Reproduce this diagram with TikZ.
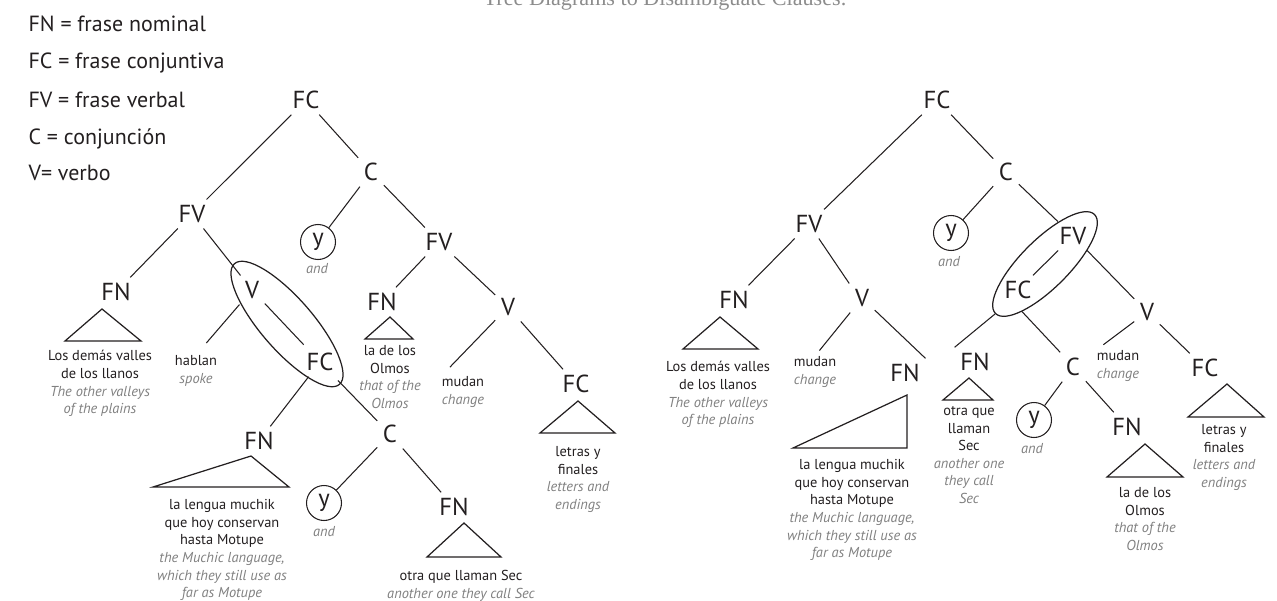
\documentclass[tikz,border=0pt]{standalone}
\usepackage{fontspec}
\setmainfont{PT Sans}
\newfontfamily\titlefont{Liberation Serif}
\usepackage{xcolor}
\usetikzlibrary{shapes.geometric}

\definecolor{ink}{HTML}{231F20}
\definecolor{glossgray}{HTML}{808080}
\definecolor{titlegray}{HTML}{8C8C8C}

\tikzset{
  cat/.style={inner sep=3pt, font=\fontsize{14}{16}\selectfont},
  leaf/.style={anchor=north, inner sep=0pt, align=center, font=\fontsize{8.2}{10}\selectfont},
  gloss/.style={inner sep=0pt, text=glossgray, font=\fontsize{8.2}{10}\selectfont\itshape},
  yc/.style={draw, circle, minimum size=0.7cm, inner sep=0pt, font=\fontsize{14}{16}\selectfont},
  oval/.style={draw, ellipse, inner sep=0pt, line width=0.7pt},
  tri/.style={line width=0.7pt},
  key/.style={anchor=base west, inner sep=0pt, font=\fontsize{12.5}{15}\selectfont}
}
\newcommand{\gl}[1]{\textcolor{glossgray}{\itshape #1}}

\begin{document}
\begin{tikzpicture}[x=0.02cm, y=-0.02cm, line width=0.6pt, color=ink]
\clip (0,0) rectangle (1277,601);
\node[anchor=base, inner sep=0pt, text=titlegray, font=\titlefont\fontsize{12.6}{15}\selectfont] (title) at (665,6) {Tree Diagrams to Disambiguate Clauses.};

% key
\node[key] (keyFN) at (28,32) {FN = frase nominal};
\node[key] (keyFC) at (28,69) {FC = frase conjuntiva};
\node[key] (keyFV) at (28,108) {FV = frase verbal};
\node[key] (keyC) at (28,145) {C = conjunción};
\node[key] (keyV) at (28,181) {V= verbo};

% left tree
\node[cat] (fcTopA) at (306,100) {FC};
\node[cat] (cA) at (371,172) {C};
\node[cat] (fvA) at (192,214) {FV};
\node[yc] (yA) at (318,242) {y};
\node[gloss] (andA) at (317,269) {and};
\node[cat] (fvA2) at (439,242) {FV};
\node[cat] (fnA) at (116,292) {FN};
\node[cat] (vA) at (252,290) {V};
\node[cat] (fcA) at (320,362) {FC};
\node[oval, minimum width=3.2cm, minimum height=1.04cm, rotate=-49] (ovA) at (287,324) {};
\node[cat] (fnA2) at (259,441) {FN};
\node[cat] (cA2) at (390,434) {C};
\node[yc] (yA2) at (324,503) {y};
\node[gloss] (andA2) at (324,532) {and};
\node[cat] (fnA3) at (454,507) {FN};
\node[cat] (fnA4) at (382,302) {FN};
\node[cat] (vA2) at (508,307) {V};
\node[cat] (fcA3) at (576,384) {FC};

\node[leaf] (leafA1) at (100,350) {Los demás valles\\de los llanos\\\gl{The other valleys}\\\gl{of the plains}};
\node[leaf] (hablan) at (196,355) {hablan\\\gl{spoke}};
\node[leaf] (leafA2) at (222,499) {la lengua muchik\\que hoy conservan\\hasta Motupe\\\gl{the Muchic language,}\\\gl{which they still use as}\\\gl{far as Motupe}};
\node[leaf] (leafA3) at (461,570) {otra que llaman Sec\\\gl{another one they call Sec}};
\node[leaf] (leafA4) at (390,345) {la de los\\Olmos\\\gl{that of the}\\\gl{Olmos}};
\node[leaf] (mudanA) at (463,376) {mudan\\\gl{change}};
\node[leaf] (leafA5) at (578,446) {letras y\\finales\\\gl{letters and}\\\gl{endings}};

\draw[tri] (102,309) -- (65,341) -- (141,341) -- cycle;
\draw[tri] (251,456) -- (153,487) -- (289,487) -- cycle;
\draw[tri] (464,523) -- (427,557) -- (501,557) -- cycle;
\draw[tri] (390,317) -- (365,339) -- (413,339) -- cycle;
\draw[tri] (578,401) -- (540,433) -- (615,433) -- cycle;

\draw (fcTopA) -- (fvA);
\draw (fcTopA) -- (cA);
\draw (cA) -- (yA);
\draw (cA) -- (fvA2);
\draw (fvA) -- (fnA);
\draw (fvA) -- (vA);
\draw[shorten >=9pt] (vA) -- (hablan.north);
\draw[shorten >=2pt] (vA) -- (fcA);
\draw (fcA) -- (fnA2);
\draw[shorten <=3pt] (fcA) -- (cA2);
\draw (cA2) -- (yA2);
\draw (cA2) -- (fnA3);
\draw (fvA2) -- (fnA4);
\draw (fvA2) -- (vA2);
\draw[shorten >=7pt] (vA2) -- (mudanA.north west);
\draw (vA2) -- (fcA3);

% right tree
\node[cat] (fcTopB) at (937,100) {FC};
\node[cat] (cB) at (1006,172) {C};
\node[cat] (fvB) at (809,224) {FV};
\node[yc] (yB) at (951,233) {y};
\node[gloss] (andB) at (949,262) {and};
\node[cat] (fvB2) at (1073,236) {FV};
\node[cat] (fcB) at (1018,290) {FC};
\node[oval, minimum width=2.8cm, minimum height=0.96cm, rotate=45] (ovB) at (1045,264) {};
\node[cat] (fnB) at (734,300) {FN};
\node[cat] (vB) at (862,298) {V};
\node[cat] (fnB2) at (905,373) {FN};
\node[cat] (fnB3) at (975,362) {FN};
\node[cat] (cB2) at (1073,367) {C};
\node[yc] (yB2) at (1034,420) {y};
\node[gloss] (andB2) at (1032,449) {and};
\node[cat] (fnB4) at (1127,427) {FN};
\node[cat] (vB2) at (1147,312) {V};
\node[cat] (fcB3) at (1205,368) {FC};

\node[leaf] (leafB1) at (718,361) {Los demás valles\\de los llanos\\\gl{The other valleys}\\\gl{of the plains}};
\node[leaf] (mudanB) at (815,356) {mudan\\\gl{change}};
\node[leaf] (leafB2) at (852,459) {la lengua muchik\\que hoy conservan\\hasta Motupe\\\gl{the Muchic language,}\\\gl{which they still use as}\\\gl{far as Motupe}};
\node[leaf] (leafB3) at (969,406) {otra que\\llaman\\Sec\\\gl{another one}\\\gl{they call}\\\gl{Sec}};
\node[leaf] (leafB4) at (1145,487) {la de los\\Olmos\\\gl{that of the}\\\gl{Olmos}};
\node[leaf] (mudanB2) at (1118,350) {mudan\\\gl{change}};
\node[leaf] (leafB5) at (1224,424) {letras y\\finales\\\gl{letters and}\\\gl{endings}};

\draw[tri] (720,317) -- (683,349) -- (758,349) -- cycle;
\draw[tri] (907,395) -- (907,448) -- (793,448) -- cycle;
\draw[tri] (969,378) -- (943,400) -- (993,400) -- cycle;
\draw[tri] (1145,444) -- (1107,477) -- (1183,477) -- cycle;
\draw[tri] (1227,384) -- (1188,417) -- (1264,417) -- cycle;

\draw (fcTopB) -- (fvB);
\draw (fcTopB) -- (cB);
\draw (cB) -- (yB);
\draw (cB) -- (fvB2);
\draw (fvB) -- (fnB);
\draw (fvB) -- (vB.north west);
\draw[shorten >=4pt] (vB) -- (mudanB.north);
\draw (vB) -- (fnB2.north east);
\draw (fvB2) -- (fcB);
\draw (fvB2) -- (vB2);
\draw (ovB.west) -- (fnB3.north west);
\draw (ovB.south west) -- (cB2.north west);
\draw (cB2) -- (yB2);
\draw (cB2) -- (fnB4);
\draw[shorten >=5pt] (vB2) -- (mudanB2.north west);
\draw (vB2) -- (fcB3);
\end{tikzpicture}
\end{document}
